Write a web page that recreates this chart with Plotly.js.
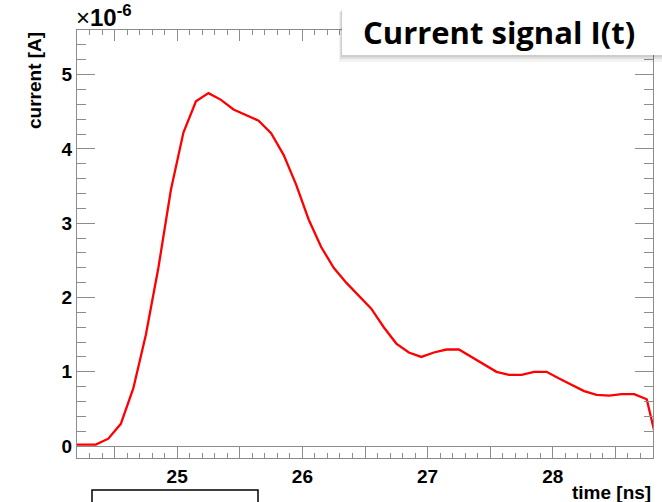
<!DOCTYPE html>
<html><head><meta charset="utf-8">
<script src="https://cdn.plot.ly/plotly-3.0.1.min.js"></script>
<style>html,body{margin:0;padding:0;background:#fff;}#chart{width:662px;height:502px;}</style>
</head><body><div id="chart"></div>
<script>
const timeNs = [24.15,24.25,24.35,24.45,24.55,24.65,24.75,24.85,24.95,25.05,25.15,25.25,25.35,25.45,25.55,25.65,25.75,25.85,25.95,26.05,26.15,26.25,26.35,26.45,26.55,26.65,26.75,26.85,26.95,27.05,27.15,27.25,27.35,27.45,27.55,27.65,27.75,27.85,27.95,28.05,28.15,28.25,28.35,28.45,28.55,28.65,28.75,28.85];
const currentE6 = [0.02,0.02,0.02,0.10,0.30,0.78,1.50,2.40,3.45,4.22,4.64,4.75,4.66,4.53,4.45,4.38,4.21,3.92,3.52,3.05,2.68,2.40,2.20,2.02,1.85,1.60,1.38,1.26,1.20,1.26,1.30,1.30,1.20,1.10,1.00,0.96,0.96,1.00,1.00,0.91,0.82,0.74,0.69,0.68,0.70,0.70,0.63,-0.08];
const xLabelVals = [25,26,27,28];
const xLabelText = ['25','26','27','28'];
const xHalfTickVals = [24.5,25,25.5,26,26.5,27,27.5,28,28.5];
const yTickVals = [0,1,2,3,4,5];
const yTickText = ['0','1','2','3','4','5'];

const axisGray = '#8c8c8c';
const tickFont = {family:'Liberation Sans, Arial, sans-serif', size:19, color:'#000', weight:'bold'};
const W = 662, H = 502, L = 77, R = 9, T = 30, B = 44;
const pw = W - L - R, ph = H - T - B;
const px = v => (v - L) / pw;
const py = v => (H - B - v) / ph;

const data = [
  {x: timeNs, y: currentE6, type:'scatter', mode:'lines', line:{color:'#ff0000', width:2.3}, hoverinfo:'skip'},
  {x: timeNs, y: currentE6, xaxis:'x2', type:'scatter', mode:'lines', line:{color:'rgba(0,0,0,0)', width:0}, hoverinfo:'skip'}
];

const layout = {
  width:W, height:H, margin:{l:L, r:R, t:T, b:B},
  paper_bgcolor:'#fff', plot_bgcolor:'#fff', showlegend:false,
  xaxis:{
    range:[24.2,28.8], tickmode:'array', tickvals:xLabelVals, ticktext:xLabelText,
    ticks:'inside', ticklen:11, tickwidth:1, tickcolor:axisGray,
    minor:{tickmode:'linear', tick0:24.2, dtick:0.1, ticks:'inside', ticklen:5, tickwidth:1, tickcolor:axisGray, showgrid:false},
    showline:true, linecolor:axisGray, linewidth:1, mirror:'ticks',
    showgrid:false, zeroline:false, tickfont:tickFont, ticklabelstandoff:1
  },
  xaxis2:{
    range:[24.2,28.8], overlaying:'x', side:'bottom', anchor:'y', tickmode:'array', tickvals:xHalfTickVals,
    showticklabels:false, ticks:'inside', ticklen:11, tickwidth:1, tickcolor:axisGray,
    showline:false, mirror:'ticks', showgrid:false, zeroline:false
  },
  yaxis:{
    range:[-0.16,5.6], tickmode:'array', tickvals:yTickVals, ticktext:yTickText,
    ticks:'inside', ticklen:18, tickwidth:1, tickcolor:axisGray,
    minor:{tickmode:'linear', tick0:0, dtick:0.2, ticks:'inside', ticklen:9, tickwidth:1, tickcolor:axisGray, showgrid:false},
    showline:true, linecolor:axisGray, linewidth:1, mirror:'ticks',
    showgrid:false, zeroline:true, zerolinecolor:axisGray, zerolinewidth:1,
    tickfont:tickFont, ticklabelstandoff:0
  },
  shapes:[
    {type:'rect', xref:'paper', yref:'paper', x0:px(339), x1:px(670), y0:py(62), y1:py(12), fillcolor:'rgba(0,0,0,0.05)', line:{width:0}, layer:'above'},
    {type:'rect', xref:'paper', yref:'paper', x0:px(340), x1:px(670), y0:py(59), y1:py(11), fillcolor:'rgba(0,0,0,0.08)', line:{width:0}, layer:'above'},
    {type:'rect', xref:'paper', yref:'paper', x0:px(341), x1:px(670), y0:py(57), y1:py(10), fillcolor:'rgba(0,0,0,0.08)', line:{width:0}, layer:'above'},
    {type:'rect', xref:'paper', yref:'paper', x0:px(342), x1:px(670), y0:py(55), y1:py(10), fillcolor:'#fff', line:{width:0}, layer:'above'},
    {type:'rect', xref:'paper', yref:'paper', x0:px(92), x1:px(258), y0:py(510), y1:py(490), fillcolor:'#fff', line:{color:'#000', width:1.5}, layer:'above'}
  ],
  annotations:[
    {text:'Current signal I(t)', xref:'paper', yref:'paper', x:px(499), y:py(32), xanchor:'center', yanchor:'middle', showarrow:false,
     font:{family:'Open Sans, sans-serif', size:31, color:'#000', weight:'bold'}},
    {text:'time [ns]', xref:'paper', yref:'paper', x:1, y:py(492), xanchor:'right', yanchor:'middle', showarrow:false,
     font:{family:'Liberation Sans, Arial, sans-serif', size:19, color:'#000', weight:'bold'}},
    {text:'current [A]', xref:'paper', yref:'paper', x:px(34.5), y:1, xanchor:'center', yanchor:'top', textangle:-90, showarrow:false,
     font:{family:'Liberation Sans, Arial, sans-serif', size:19, color:'#000', weight:'bold'}},
    {text:'×<b>10</b><sup><b>-6</b></sup>', xref:'paper', yref:'paper', x:px(74), y:py(33), xanchor:'left', yanchor:'bottom', showarrow:false,
     font:{family:'Liberation Sans, Arial, sans-serif', size:24, color:'#000'}}
  ]
};
Plotly.newPlot('chart', data, layout, {displayModeBar:false, staticPlot:true});
</script></body></html>
